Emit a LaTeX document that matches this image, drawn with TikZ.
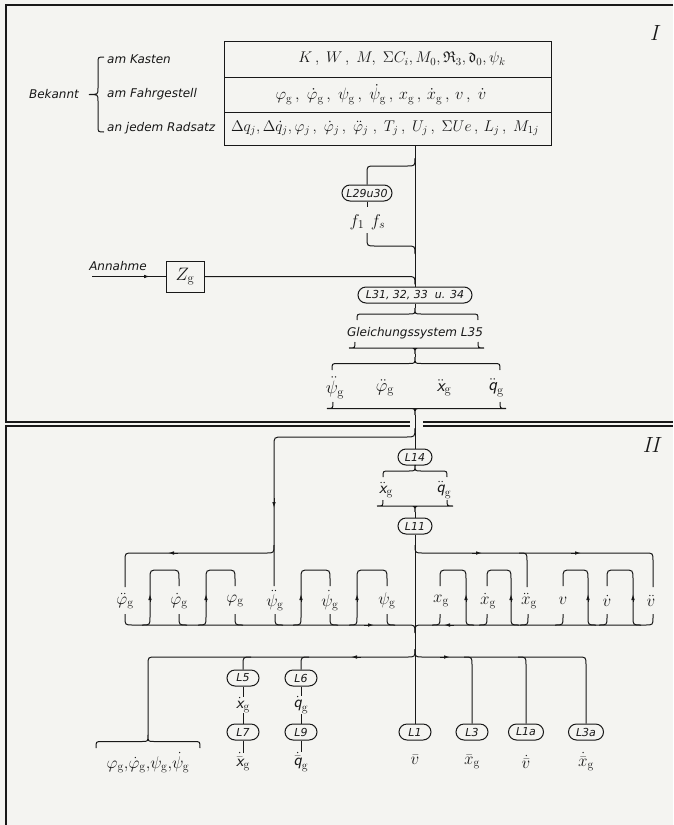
\RequirePackage{fix-cm}
\documentclass[tikz,border=0pt]{standalone}
\usepackage{amsmath,amssymb}
\usepackage{fontspec}
\newfontfamily\lab{DejaVu Sans}
\usetikzlibrary{arrows.meta}
\definecolor{ink}{RGB}{24,24,24}
\definecolor{paper}{RGB}{244,244,241}
\newcommand\gs{\mathrm{g}}
\newcommand\sx{\textsf{\itshape x}}
\newcommand\sq{\textsf{\itshape q}}
% brace: x1, x2, tip x, end y, tip y
\newcommand\mybrace[5]{%
 \draw[ln] (#1,#4) .. controls (#1,{(#4+#5)/2}) .. ({#1+6},{(#4+#5)/2}) -- ({#3-6},{(#4+#5)/2})
   .. controls (#3,{(#4+#5)/2}) .. (#3,#5) .. controls (#3,{(#4+#5)/2}) .. ({#3+6},{(#4+#5)/2})
   -- ({#2-6},{(#4+#5)/2}) .. controls (#2,{(#4+#5)/2}) .. (#2,#4);}
\begin{document}
\begin{tikzpicture}[x=1pt,y=-1pt,
  ln/.style={line width=1pt, draw=ink},
  frame/.style={line width=1.3pt, draw=ink},
  lbl/.style={font=\lab\itshape\fontsize{12}{14}\selectfont, inner sep=0pt, text=ink},
  pill/.style={draw=ink, line width=1pt, rounded corners=8pt, minimum height=16pt,
     inner xsep=2pt, inner ysep=0pt, font=\lab\itshape\fontsize{11}{13}\selectfont, text=ink},
  mth/.style={font=\fontsize{17}{20}\selectfont, inner sep=0pt, text=ink},
  tmth/.style={font=\fontsize{15.5}{18}\selectfont, inner sep=0pt, text=ink},
  big/.style={font=\fontsize{18}{21}\selectfont, inner sep=0pt, text=ink},
  arr/.style={-{Latex[length=6pt,width=3.6pt]}, line width=1pt, draw=ink},
  roman/.style={font=\fontsize{22}{24}\selectfont\itshape, inner sep=0pt, text=ink}]
\fill[paper] (0,0) rectangle (673,825);
\useasboundingbox (0,0) rectangle (673,825);
% frames
\draw[frame] (673,5) -- (6,5) -- (6,422) -- (410,422);
\draw[frame] (423,422) -- (673,422);
\draw[frame] (410,426) -- (6,426) -- (6,825);
\draw[frame] (423,426) -- (673,426);
\node[roman] (secI) at (654,33) {I};
\node[roman] (secII) at (651,445) {II};
% table
\node[draw=ink, line width=1pt, minimum width=327pt, minimum height=104pt, inner sep=0pt] (tab) at (387.5,93) {};
\draw[ln] (224,77) -- (551,77);
\draw[ln] (224,112) -- (551,112);
\node[tmth] (r1) at (402,59) {$K\,,\;W\,,\;M,\;\Sigma C_{i},M_{0},\mathfrak{R}_{3},\mathfrak{d}_{0},\psi_{k}$};
\node[tmth, font=\fontsize{16.5}{19}\selectfont] (r2) at (381,94.5) {$\varphi_\gs\,,\;\dot\varphi_\gs\,,\;\psi_\gs\,,\;\dot\psi_\gs\,,\,x_\gs\,,\,\dot x_\gs\,,\,v\,,\;\dot v$};
\node[tmth] (r3) at (385,128.5) {$\Delta q_j,\Delta\dot q_j,\varphi_j\,,\;\dot\varphi_j\,,\;\ddot\varphi_j\;,\;T_j\,,\;U_j\,,\;\Sigma Ue\,,\,L_j\,,\;M_{1j}$};
\node[lbl, anchor=west] (k1) at (107,59) {am Kasten};
\node[lbl, anchor=west] (k2) at (107,94.5) {am Fahrgestell};
\node[lbl, anchor=west] (k3) at (107,128.5) {an jedem Radsatz};
\node[lbl] (bek) at (54,94.5) {Bekannt};
\draw[ln] (104,57) .. controls (98,57) .. (98,63) -- (98,88) .. controls (98,94.5) .. (89,94.5)
  .. controls (98,94.5) .. (98,101) -- (98,126) .. controls (98,132) .. (104,132);
% section I flow
\coordinate (t0) at (415,145);
\node[pill, minimum width=50pt] (L29) at (367,193) {L29u30};
\node[mth] (f1) at (357,222) {$f_1$};
\node[mth] (fs) at (378,222) {$f_s$};
\node[pill, minimum width=114pt] (L31) at (415,295) {L31, 32, 33 \ u. 34};
\draw[ln] (t0) -- (L31.north);
\draw[ln] (415,158) .. controls (415,166) .. (407,166) -- (375,166) .. controls (367,166) .. (367,174) -- (L29.north);
\draw[ln] (L29.south) -- (367,207);
\draw[ln] (367,233) -- (367,238) .. controls (367,246) .. (375,246) -- (407,246) .. controls (415,246) .. (415,254);
\node[draw=ink, line width=1pt, minimum width=38pt, minimum height=31pt, inner sep=0pt, big] (Zg) at (185,276.5) {$Z_\gs$};
\node[lbl] (ann) at (118,266) {Annahme};
\coordinate (a0) at (92,276.5);
\draw[ln] (a0) -- (Zg.west);
\draw[arr] (140,276.5) -- (150,276.5);
\draw[ln] (Zg.east) -- (407,276.5) .. controls (415,276.5) .. (415,284.5);
\draw[ln] (L31.south) -- (415,308);
\mybrace{357}{478}{415}{320}{308}
\node[lbl] (gl) at (415,333) {Gleichungssystem L35};
\mybrace{478}{355}{415}{342}{354}
\draw[ln] (415,354) -- (415,357);
\mybrace{332}{500}{415}{370}{357}
\node[big] (a1) at (335,388) {$\ddot\psi_\gs$};
\node[big] (a2) at (385,388) {$\ddot\varphi_\gs$};
\node[big] (a3) at (444,388) {$\ddot{\sx}_\gs$};
\node[big] (a4) at (496,388) {$\ddot{\sq}_\gs$};
\mybrace{500}{333}{415}{402}{415}
% section II
\node[pill, minimum width=34pt] (L14) at (415,457) {L14};
\draw[ln] (415,415) -- (L14.north);
\mybrace{383}{447}{415}{477}{465}
\draw[ln] (L14.south) -- (415,465);
\node[mth] (b1) at (386,490) {$\ddot{\sx}_\gs$};
\node[mth] (b2) at (444,490) {$\ddot{\sq}_\gs$};
\mybrace{447}{383}{415}{500}{512}
\node[pill, minimum width=34pt] (L11) at (415,526) {L11};
\draw[ln] (415,512) -- (L11.north);
% left feed from top
\draw[ln] (415,428) .. controls (415,437) .. (406,437) -- (283,437) .. controls (274,437) .. (274,446) -- (274,586);
\draw[arr] (274,498) -- (274,508);
\draw[ln] (274,545) .. controls (274,553) .. (266,553) -- (133,553) .. controls (125,553) .. (125,561) -- (125,587);
\draw[arr] (178,553) -- (168,553);
% right feed from L11
\draw[ln] (415,545) .. controls (415,553) .. (423,553) -- (645,553) .. controls (653,553) .. (653,561) -- (653,587);
\draw[ln] (519,553) .. controls (527,553) .. (527,561) -- (527,587);
\draw[arr] (472,553) -- (482,553);
\draw[arr] (571,553) -- (581,553);
% variables
\node[mth] (v1) at (125,601) {$\ddot\varphi_\gs$};
\node[mth] (v2) at (179,601) {$\dot\varphi_\gs$};
\node[mth] (v3) at (235,601) {$\varphi_\gs$};
\node[mth] (v4) at (275,601) {$\ddot\psi_\gs$};
\node[mth] (v5) at (330,601) {$\dot\psi_\gs$};
\node[mth] (v6) at (387,601) {$\psi_\gs$};
\node[mth] (w1) at (441,601) {$x_\gs$};
\node[mth] (w2) at (488,601) {$\dot x_\gs$};
\node[mth] (w3) at (529,601) {$\ddot x_\gs$};
\node[mth] (w4) at (563,601) {$v$};
\node[mth] (w5) at (607,601) {$\dot v$};
\node[mth] (w6) at (651,601) {$\ddot v$};
% left loops
\foreach \a/\b in {150/179,206/235,301/330,357/387}{
  \draw[ln] ({\a-8},625) .. controls (\a,625) .. (\a,617) -- (\a,579) .. controls (\a,570) .. ({\a+9},570)
     -- ({\b-9},570) .. controls (\b,570) .. (\b,579) -- (\b,586);
  \draw[arr] (\a,602) -- (\a,594);}
\foreach \b in {179,235,275,330,387}{
  \draw[ln] (\b,614) -- (\b,617) .. controls (\b,625) .. ({\b+8},625);}
% right loops
\foreach \a/\b in {440/466,487/511,563/588,607/633}{
  \draw[ln] ({\b+8},625) .. controls (\b,625) .. (\b,617) -- (\b,579) .. controls (\b,570) .. ({\b-9},570)
     -- ({\a+9},570) .. controls (\a,570) .. (\a,579) -- (\a,586);
  \draw[arr] (\b,602) -- (\b,594);}
\foreach \b in {440,487,528,563,607}{
  \draw[ln] (\b,614) -- (\b,617) .. controls (\b,625) .. ({\b-8},625);}
% bottom collecting lines
\draw[ln] (125,614) -- (125,617) .. controls (125,625) .. (133,625) -- (407,625) .. controls (415,625) .. (415,633);
\draw[ln] (653,614) -- (653,617) .. controls (653,625) .. (645,625) -- (423,625) .. controls (415,625) .. (415,633);
\draw[arr] (364,625) -- (374,625);
\draw[arr] (454,625) -- (444,625);
% lower distribution
\node[pill, minimum width=32pt] (L5) at (243,678) {L5};
\node[pill, minimum width=32pt] (L6) at (301,678) {L6};
\node[mth] (c1) at (243,705) {$\dot{\sx}_\gs$};
\node[mth] (c2) at (301,705) {$\dot{\sq}_\gs$};
\node[pill, minimum width=32pt] (L7) at (243,732) {L7};
\node[pill, minimum width=32pt] (L9) at (301,732) {L9};
\node[mth] (d1) at (243,762) {$\dot{\bar{\sx}}_\gs$};
\node[mth] (d2) at (301,762) {$\dot{\bar{\sq}}_\gs$};
\node[pill, minimum width=32pt] (L1) at (415,732) {L1};
\node[pill, minimum width=32pt] (L3) at (472,732) {L3};
\node[pill, minimum width=35pt] (L1a) at (526,732) {L1a};
\node[pill, minimum width=35pt] (L3a) at (586,732) {L3a};
\node[mth] (e1) at (415,760) {$\bar v$};
\node[mth] (e2) at (472,762) {$\bar x_\gs$};
\node[mth] (e3) at (526,762) {$\dot{\bar v}$};
\node[mth] (e4) at (586,762) {$\dot{\bar x}_\gs$};
\node[mth] (fin) at (148,763) {$\varphi_\gs,\!\dot\varphi_\gs,\!\psi_\gs,\!\dot\psi_\gs$};
\draw[ln] (L11.south) -- (L1.north);
\draw[ln] (415,649) .. controls (415,657) .. (407,657) -- (156,657) .. controls (148,657) .. (148,665) -- (148,735);
\draw[ln] (415,649) .. controls (415,657) .. (423,657) -- (578,657) .. controls (586,657) .. (586,665) -- (L3a.north);
\draw[ln] (251,657) .. controls (243,657) .. (243,665) -- (L5.north);
\draw[ln] (309,657) .. controls (301,657) .. (301,665) -- (L6.north);
\draw[ln] (464,657) .. controls (472,657) .. (472,665) -- (L3.north);
\draw[ln] (518,657) .. controls (526,657) .. (526,665) -- (L1a.north);
\draw[arr] (361,657) -- (351,657);
\draw[arr] (440,657) -- (450,657);
\mybrace{96}{200}{148}{748}{735}
\draw[ln] (L5.south) -- (c1.north);
\draw[ln] (c1.south) -- (L7.north);
\draw[ln] (L7.south) -- (d1.north);
\draw[ln] (L6.south) -- (c2.north);
\draw[ln] (c2.south) -- (L9.north);
\draw[ln] (L9.south) -- (d2.north);
\end{tikzpicture}
\end{document}
